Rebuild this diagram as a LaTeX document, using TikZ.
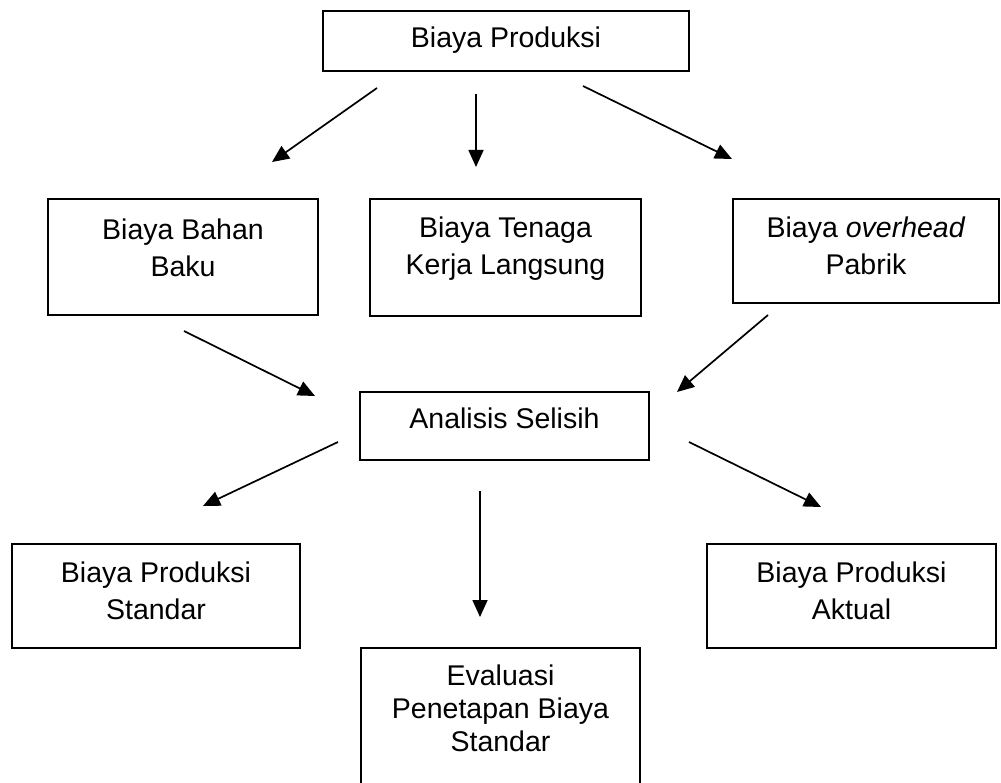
\documentclass[tikz,border=0pt]{standalone}
\usepackage{fontspec}
\setmainfont{Liberation Sans}
\usetikzlibrary{positioning,calc,arrows,arrows.meta}
\tikzset{font=\fontsize{28.5}{37}\selectfont}
\newcommand{\txtdepth}[1]{\rule[-#1pt]{0pt}{#1pt}}

\begin{document}
\begin{tikzpicture}[x=1pt,y=-1pt]
	\clip (0,0) rectangle (1001,783);
	\begin{scope}
		\tikzstyle{every node}=[draw, align=center, inner sep=0pt, line width=1.7pt]
		\tikzstyle{flow}=[-{Triangle[length=17pt,width=15pt]}, line width=1.7pt]
		\node[minimum width=366pt, minimum height=60pt] (prod) at (506,41) {Biaya Produksi\txtdepth{7}};
		\node[minimum width=270pt, minimum height=116pt] (bahan) at (183,257) {Biaya Bahan\\Baku\txtdepth{18}};
		\node[minimum width=271pt, minimum height=117pt] (tenaga) at (505.5,257.5) {Biaya Tenaga\\Kerja Langsung\txtdepth{23}};
		\node[minimum width=266pt, minimum height=104pt] (overhead) at (866,251) {Biaya \textit{overhead}\\Pabrik\txtdepth{10}};
		\node[minimum width=289pt, minimum height=68pt] (selisih) at (504.5,426) {Analisis Selisih\txtdepth{15}};
		\node[minimum width=288pt, minimum height=104pt] (standar) at (156,596) {Biaya Produksi\\Standar\txtdepth{10}};
		\node[minimum width=289pt, minimum height=104pt] (aktual) at (851.5,596) {Biaya Produksi\\Aktual\txtdepth{10}};
		\node[anchor=north, minimum width=279pt, inner ysep=17pt, font=\fontsize{28.5}{33}\selectfont] (evaluasi) at (500.5,647) {Evaluasi\\Penetapan Biaya\\Standar\txtdepth{60}};

		\coordinate (s1) at (377,88);  \coordinate (e1) at (272,162);
		\coordinate (s2) at (476,94);  \coordinate (e2) at (476,167);
		\coordinate (s3) at (583,86);  \coordinate (e3) at (732,159);
		\coordinate (s4) at (184,331); \coordinate (e4) at (315,396);
		\coordinate (s5) at (768,315); \coordinate (e5) at (677,392);
		\coordinate (s6) at (338,442); \coordinate (e6) at (203,506);
		\coordinate (s7) at (480,491); \coordinate (e7) at (480,617);
		\coordinate (s8) at (689,442); \coordinate (e8) at (821,507);

		\draw[flow] (s1) -- (e1);
		\draw[flow] (s2) -- (e2);
		\draw[flow] (s3) -- (e3);
		\draw[flow] (s4) -- (e4);
		\draw[flow] (s5) -- (e5);
		\draw[flow] (s6) -- (e6);
		\draw[flow] (s7) -- (e7);
		\draw[flow] (s8) -- (e8);
	\end{scope}
\end{tikzpicture}
\end{document}
